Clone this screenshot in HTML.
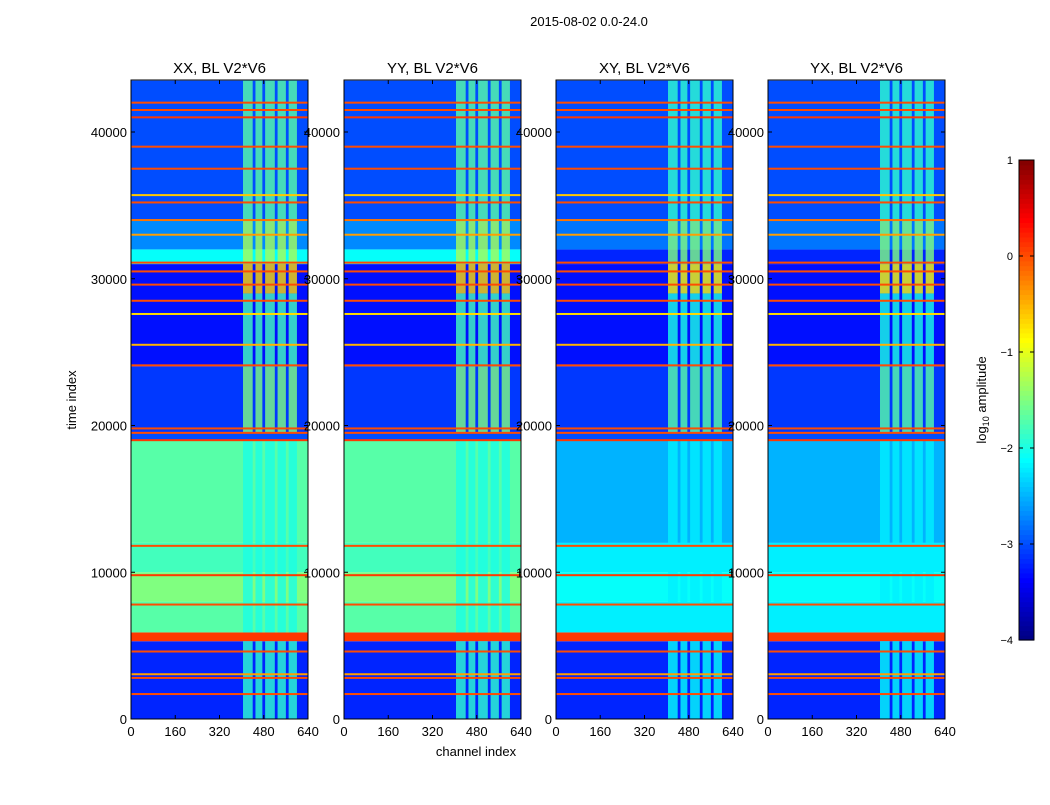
<!DOCTYPE html>
<html><head><meta charset="utf-8"><style>
body{margin:0;background:#fff;}
svg text{font-family:"Liberation Sans","DejaVu Sans",sans-serif;}
</style></head><body>
<svg id="fig" width="1050" height="800" xmlns="http://www.w3.org/2000/svg">
<rect width="1050" height="800" fill="#fff"/>
<text x="589" y="26" font-size="13" text-anchor="middle">2015-08-02 0.0-24.0</text>
<text x="476" y="756" font-size="13" text-anchor="middle">channel index</text>
<text transform="translate(76,400) rotate(-90)" font-size="13" text-anchor="middle">time index</text>
<text transform="translate(986,400) rotate(-90)" font-size="13" text-anchor="middle">log<tspan font-size="9" dy="3">10</tspan><tspan dy="-3"> amplitude</tspan></text>
</svg>
<script>
const panelTitles=["XX, BL V2*V6","YY, BL V2*V6","XY, BL V2*V6","YX, BL V2*V6"];
const xTicks=[0,160,320,480,640];
const yTicks=[0,10000,20000,30000,40000];
const cbTicks=[1,0,-1,-2,-3,-4];
// background segments [t0,t1,log amplitude] for auto (XX,YY) and cross (XY,YX)
const segAuto=[[0,5300,-3.2],[5300,5900,0.1],[5900,8000,-1.7],[8000,10000,-1.5],[10000,12000,-1.8],[12000,19000,-1.7],[19000,19500,-3],[19500,24000,-3.1],[24000,31000,-3.3],[31000,32000,-2.1],[32000,34000,-2.7],[34000,43500,-3.0]];
const segCross=[[0,5300,-3.2],[5300,5900,0.1],[5900,8000,-2.2],[8000,10000,-2.1],[10000,12000,-2.2],[12000,19000,-2.5],[19000,19500,-3],[19500,24000,-3.1],[24000,31000,-3.3],[31000,32000,-3.2],[32000,34000,-2.8],[34000,43500,-3.0]];
// stripe segments [t0,t1,value]
const stripeSeg=[[0,5300,-1.9],[5900,19000,-2.0],[19500,24000,-1.5],[24000,29000,-1.8],[29000,31000,-0.7],[31000,34000,-1.3],[34000,43500,-1.7]];
const stripeCh=[[405,440],[450,475],[485,520],[530,560],[570,600]];
// horizontal lines [t, value]
const hLines=[[1700,0.0],[2800,0.0],[3050,-0.4],[4600,0.0],[7800,0.0],[9800,0.1],[11800,0.0],[19000,0.1],[19500,0.0],[19800,0.0],[24100,0.0],[25500,-0.5],[27600,-0.7],[28500,0.0],[29600,0.0],[30500,0.0],[31100,0.0],[33000,-0.4],[34000,-0.2],[35200,0.0],[35700,-0.6],[37500,0.0],[39000,0.0],[41000,0.1],[41500,0.0],[42000,0.0]];
const panelX=[131,344,556,768], PW=177, Y0=719, YT=80, TMAX=43544;
const svg=document.getElementById('fig'), NS="http://www.w3.org/2000/svg";
function jet(v){let t=Math.max(0,Math.min(1,(v+4)/5));
 const f=x=>Math.max(0,Math.min(1,1.5-Math.abs(4*t-x)));
 return `rgb(${Math.round(255*f(3))},${Math.round(255*f(2))},${Math.round(255*f(1))})`;}
function ys(t){return Y0-(t/TMAX)*(Y0-YT);}
function mk(tag,a,p){const e=document.createElementNS(NS,tag);for(const k in a)e.setAttribute(k,a[k]);(p||svg).appendChild(e);return e;}
panelX.forEach((px,i)=>{
 const xs=c=>px+c/640*PW;
 const g=mk('g',{});
 
 
 const segs=i<2?segAuto:segCross;
 segs.forEach(s=>{const r=mk('rect',{x:px,y:ys(s[1]),width:PW,height:ys(s[0])-ys(s[1]),fill:jet(s[2])},g);
  });
 stripeSeg.forEach(s=>stripeCh.forEach(c=>{const r=mk('rect',{x:xs(c[0]),y:ys(s[1]),width:xs(c[1])-xs(c[0]),height:ys(s[0])-ys(s[1]),fill:jet(s[2]+(i<2?0:-0.2)),opacity:0.8},g);
  }));
 hLines.forEach(h=>{const r=mk('rect',{x:px,y:ys(h[0])-1,width:PW,height:2,fill:jet(h[1])},g);
  });
 const fr=mk('rect',{x:px,y:YT,width:PW,height:Y0-YT,fill:'none',stroke:'#000','stroke-width':1},g);
 
 const tt=mk('text',{x:px+PW/2,y:73,'font-size':15,'text-anchor':'middle'},g);tt.textContent=panelTitles[i];
 
 xTicks.forEach(v=>{const x=xs(v);mk('line',{x1:x,x2:x,y1:Y0,y2:Y0-4,stroke:'#000'},g);mk('line',{x1:x,x2:x,y1:YT,y2:YT+4,stroke:'#000'},g);
  const t=mk('text',{x:x,y:Y0+17,'font-size':13,'text-anchor':'middle'},g);t.textContent=v;
  });
 yTicks.forEach(v=>{const y=ys(v);mk('line',{x1:px,x2:px+4,y1:y,y2:y,stroke:'#000'},g);mk('line',{x1:px+PW,x2:px+PW-4,y1:y,y2:y,stroke:'#000'},g);
  const t=mk('text',{x:px-4,y:y+5,'font-size':13,'text-anchor':'end'},g);t.textContent=v;
  });
});
// colorbar
const cb=mk('g',{});


const CX=1019,CW=15,CT=160,CB=640;
for(let k=0;k<100;k++){const v=-4+5*(k+0.5)/100;const y=CB-(k+1)*(CB-CT)/100;
 mk('rect',{x:CX,y:y,width:CW,height:(CB-CT)/100+0.6,fill:jet(v)},cb);}
mk('rect',{x:CX,y:CT,width:CW,height:CB-CT,fill:'none',stroke:'#000'},cb);
cbTicks.forEach(v=>{const y=CB-(v+4)/5*(CB-CT);mk('line',{x1:CX,x2:CX+4,y1:y,y2:y,stroke:'#000'},cb);mk('line',{x1:CX+CW,x2:CX+CW-4,y1:y,y2:y,stroke:'#000'},cb);
 const t=mk('text',{x:CX-6,y:y+4,'font-size':11,'text-anchor':'end'},cb);t.textContent=v<0?'−'+(-v):v;
 });
</script>
</body></html>
